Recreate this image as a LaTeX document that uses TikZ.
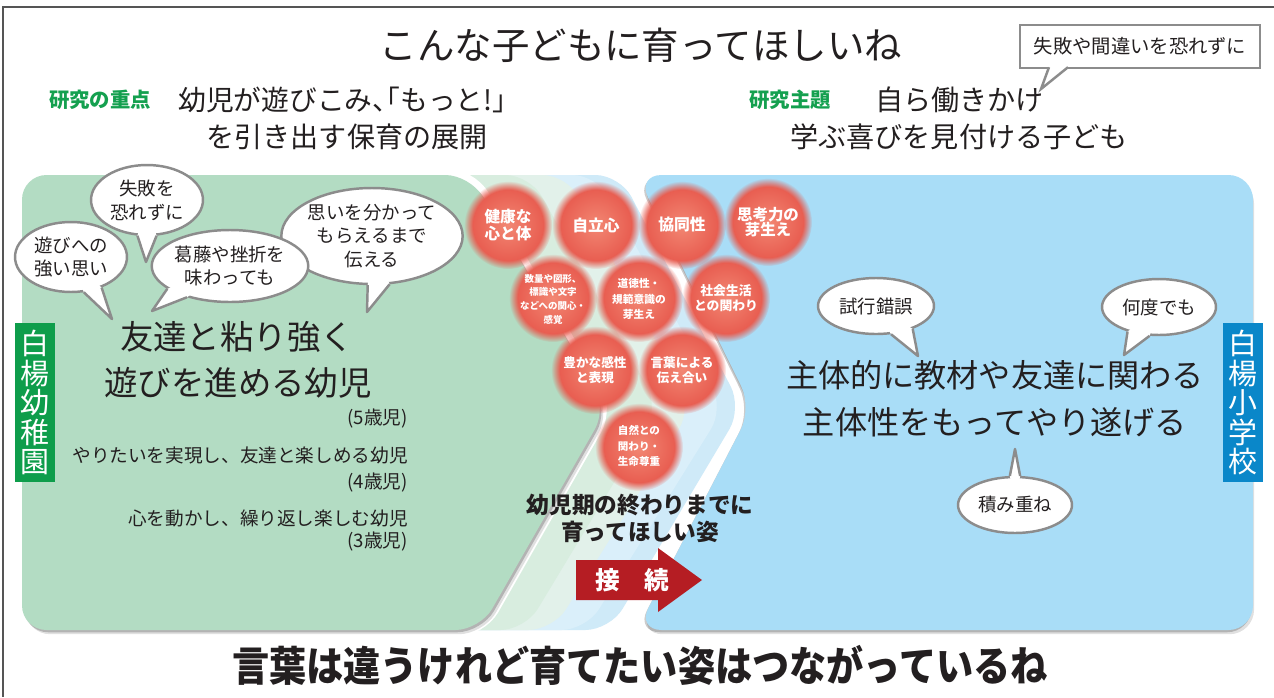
\documentclass[tikz,border=0pt]{standalone}
\usepackage{fontspec}
\usepackage{graphicx}
\setmainfont{Noto Sans CJK JP}
\usetikzlibrary{shapes.geometric,fadings,calc}
\definecolor{ink}{HTML}{231F20}
\definecolor{gpanel}{HTML}{B3DCC3}
\definecolor{bpanel}{HTML}{A9DDF7}
\definecolor{bandA}{HTML}{D8EDDF}
\definecolor{bandB}{HTML}{E2F1EA}
\definecolor{bandC}{HTML}{DAEFFA}
\definecolor{bandD}{HTML}{CFEAF8}
\definecolor{glabel}{HTML}{0E9D4B}
\definecolor{blabel}{HTML}{0A87C9}
\definecolor{gkey}{HTML}{14A04F}
\definecolor{arrowred}{HTML}{B51D23}
\definecolor{ballin}{HTML}{F28773}
\definecolor{ballout}{HTML}{E65449}
\definecolor{bline}{HTML}{8C8C8C}
\definecolor{framec}{HTML}{555555}
\newcommand\fsz[2]{\fontsize{#1}{#2}\selectfont}
\newcommand\ball[2]{\shade[inner color=ballin, outer color=ballout, path fading=circle with fuzzy edge 20 percent] (#1,#2) circle [radius=44];}
\newcommand\btail[4]{%
  \fill[white] ($(#1.center)!0.82!(#1.#2)$) -- (#1.#2) -- (#4) -- (#1.#3) -- ($(#1.center)!0.82!(#1.#3)$) -- cycle;
  \draw[bubbleedge] (#1.#2) -- (#4) -- (#1.#3);}
\begin{document}
\begin{tikzpicture}[x=0.02cm,y=-0.02cm,
  txt/.style={text=ink, inner sep=0pt, align=center},
  bubble/.style={ellipse, draw=bline, line width=1.4pt, fill=white, inner sep=0pt, align=center, text=ink, font={\fsz{10.5}{13.5}}},
  bubbleedge/.style={draw=bline, line width=1.4pt, line join=round},
  balltext/.style={text=white, align=center, inner sep=0pt},
  vlabel/.style={text=white, align=center, inner sep=0pt, minimum width=0.8cm, minimum height=3.18cm, font={\fsz{16.5}{16.8}}},
  keytext/.style={text=gkey, inner sep=0pt, font={\bfseries\fsz{11.6}{14}}}
]
\useasboundingbox (0,0) rectangle (1274,697);
\fill[white] (0,0) rectangle (1274,697);
% frame
\draw[draw=framec, line width=0.9pt] (1274,7) -- (3,7) -- (3,697);

% transition bands
\fill[bandD, rounded corners=14pt] (400,175) -- (620,175) -- (742,408) -- (610,630) -- (400,630) -- cycle;
\fill[bandC, rounded corners=14pt] (400,175) -- (597,175) -- (724,408) -- (586,630) -- (400,630) -- cycle;
\fill[bandB, rounded corners=14pt] (400,175) -- (567,175) -- (692,408) -- (553,630) -- (400,630) -- cycle;
\fill[bandA, rounded corners=14pt] (400,175) -- (530,175) -- (659,408) -- (525,630) -- (400,630) -- cycle;

% green panel
\draw[white, line width=8pt, rounded corners=14pt] (22,175) -- (470,175) -- (607,408) -- (480,630) -- (22,630) -- cycle;
\fill[black, opacity=0.12, rounded corners=14pt, xshift=2pt, yshift=-2.4pt] (22,175) -- (470,175) -- (607,408) -- (480,630) -- (22,630) -- cycle;
\fill[black, opacity=0.2, rounded corners=14pt, xshift=1pt, yshift=-1.3pt] (22,175) -- (470,175) -- (607,408) -- (480,630) -- (22,630) -- cycle;
\fill[gpanel, rounded corners=14pt] (22,175) -- (470,175) -- (607,408) -- (480,630) -- (22,630) -- cycle;

% blue panel
\draw[white, line width=8pt, rounded corners=14pt] (637,175) -- (1253,175) -- (1253,630) -- (637,630) -- (752,408) -- cycle;
\fill[black, opacity=0.12, rounded corners=14pt, xshift=0.6pt, yshift=-2.4pt] (637,175) -- (1253,175) -- (1253,630) -- (637,630) -- (752,408) -- cycle;
\fill[black, opacity=0.2, rounded corners=14pt, xshift=-0.8pt, yshift=-1.3pt] (637,175) -- (1253,175) -- (1253,630) -- (637,630) -- (752,408) -- cycle;
\fill[bpanel, rounded corners=14pt] (637,175) -- (1253,175) -- (1253,630) -- (637,630) -- (752,408) -- cycle;

% title and headings
\node[txt, font={\fsz{21.3}{24}}] (title) at (641,45) {こんな子どもに育ってほしいね};
\node[keytext] (key1) at (100,100) {研究の重点};
\node[txt, anchor=west, font={\addfontfeature{RawFeature=+halt}\fsz{15.8}{19}}] (t1a) at (178,100) {幼児が遊びこみ、「もっと!」};
\node[txt, font={\fsz{16}{19}}] (t1b) at (347,137) {を引き出す保育の展開};
\node[keytext] (key2) at (790,100) {研究主題};
\node[txt, anchor=west, font={\fsz{16}{19}}] (t2a) at (875,100) {自ら働きかけ};
\node[txt, font={\fsz{16}{19}}] (t2b) at (959,137) {学ぶ喜びを見付ける子ども};

% callout box
\node[draw=bline, line width=1.2pt, fill=white, minimum width=4.8cm, minimum height=0.86cm, inner sep=0pt, text=ink, font={\fsz{11}{13}}] (cb) at (1140,46.5) {失敗や間違いを恐れずに};
\coordinate (cbt) at (1041,89);
\coordinate (cba) at (1049,67.2);
\coordinate (cbb) at (1068,67.2);
\fill[white] (1047,63) -- (cba) -- (cbt) -- (cbb) -- (1070,63) -- cycle;
\draw[bubbleedge, line join=miter] (cba) -- (cbt) -- (cbb);

% left bubbles
\node[bubble, minimum width=3.52cm, minimum height=1.92cm] (b4) at (372,236) {思いを分かって\\もらえるまで\\伝える};
\coordinate (b4t) at (367,312);
\btail{b4}{265}{290}{b4t}
\node[bubble, minimum width=2.24cm, minimum height=1.4cm] (b2) at (147,200) {失敗を\\恐れずに};
\coordinate (b2t) at (146,262);
\btail{b2}{255}{285}{b2t}
\node[bubble, minimum width=2.24cm, minimum height=1.4cm] (b1) at (71,257) {遊びへの\\強い思い};
\coordinate (b1t) at (112,319);
\btail{b1}{290}{315}{b1t}
\node[bubble, minimum width=3.0cm, minimum height=1.44cm] (b3) at (230,266) {葛藤や挫折を\\味わっても};
\coordinate (b3t) at (152,311);
\btail{b3}{200}{216}{b3t}

% left texts
\node[txt, font={\fsz{19}{23}}] (m1) at (237,337) {友達と粘り強く};
\node[txt, font={\fsz{19}{23}}] (m2) at (238,383) {遊びを進める幼児};
\node[txt, anchor=east, font={\fsz{10.6}{13}}] (a5) at (408,418) {(5歳児)};
\node[txt, anchor=east, font={\fsz{10.6}{13}}] (m3) at (408,455) {やりたいを実現し、友達と楽しめる幼児};
\node[txt, anchor=east, font={\fsz{10.6}{13}}] (a4) at (408,482) {(4歳児)};
\node[txt, anchor=east, font={\fsz{10.6}{13}}] (m4) at (408,518) {心を動かし、繰り返し楽しむ幼児};
\node[txt, anchor=east, font={\fsz{10.6}{13}}] (a3) at (408,541) {(3歳児)};

% balls
\ball{508}{225} \node[balltext, font={\bfseries\fsz{8.9}{9.6}}] (c1) at (508,225) {健康な\\心と体};
\ball{596}{225} \node[balltext, font={\bfseries\fsz{9}{10}}] (c2) at (596,225) {自立心};
\ball{682}{225} \node[balltext, font={\bfseries\fsz{9}{10}}] (c3) at (682,225) {協同性};
\ball{768}{222} \node[balltext, font={\bfseries\fsz{8.8}{8.8}}] (c4) at (768,222) {思考力の\\芽生え};
\ball{553}{298} \node[balltext, font={\bfseries\fsz{5.4}{7.8}}] (c5) at (553,299) {数量や図形、\\標識や文字\\などへの関心・\\感覚};
\ball{639}{298} \node[balltext, font={\bfseries\fsz{6.1}{9}}] (c6) at (639,299) {道徳性・\\規範意識の\\芽生え};
\ball{726}{298} \node[balltext, font={\bfseries\fsz{7.3}{8.5}}] (c7) at (726,298) {社会生活\\との関わり};
\ball{595}{370} \node[balltext, font={\bfseries\fsz{7.2}{8.5}}] (c8) at (595,370) {豊かな感性\\と表現};
\ball{682}{370} \node[balltext, font={\bfseries\fsz{7.2}{8.5}}] (c9) at (682,370) {言葉による\\伝え合い};
\ball{639}{447} \node[balltext, font={\bfseries\fsz{6}{9}}] (c10) at (639,446) {自然との\\関わり・\\生命尊重};

% middle text and arrow
\node[txt, font={\bfseries\fsz{12.9}{15.3}}] (goal) at (640,518) {幼児期の終わりまでに\\育ってほしい姿};
\fill[arrowred] (576,560) -- (658,560) -- (658,548) -- (702,580) -- (658,612) -- (658,600) -- (576,600) -- cycle;
\node[text=white, inner sep=0pt, font={\bfseries\fsz{14}{16}}] (conn) at (632,580) {接　続};

% right bubbles and text
\node[txt, font={\fsz{18.3}{22}}] (r1) at (995,375) {主体的に教材や友達に関わる};
\node[txt, font={\fsz{18.3}{22}}] (r2) at (995,422) {主体性をもってやり遂げる};
\node[bubble, minimum width=2.32cm, minimum height=1.12cm] (s1) at (876,306) {試行錯誤};
\coordinate (s1t) at (918,356);
\btail{s1}{298}{328}{s1t}
\node[bubble, minimum width=2.28cm, minimum height=1.12cm] (s2) at (1159,307) {何度でも};
\coordinate (s2t) at (1124,355);
\btail{s2}{218}{252}{s2t}
\node[bubble, minimum width=2.28cm, minimum height=1.12cm] (s3) at (1015,505) {積み重ね};
\coordinate (s3t) at (1015,449);
\btail{s3}{80}{100}{s3t}

% vertical labels
\node[vlabel, fill=glabel] (gl) at (35,402.5) {白\\楊\\幼\\稚\\園};
\node[vlabel, fill=blabel] (bl) at (1243,402.5) {白\\楊\\小\\学\\校};

% bottom message
\node[txt, font={\bfseries\fsz{23.5}{26}}] (msg) at (640,665) {\scalebox{0.9}[1]{言葉は違うけれど育てたい姿はつながっているね}};
\end{tikzpicture}
\end{document}
